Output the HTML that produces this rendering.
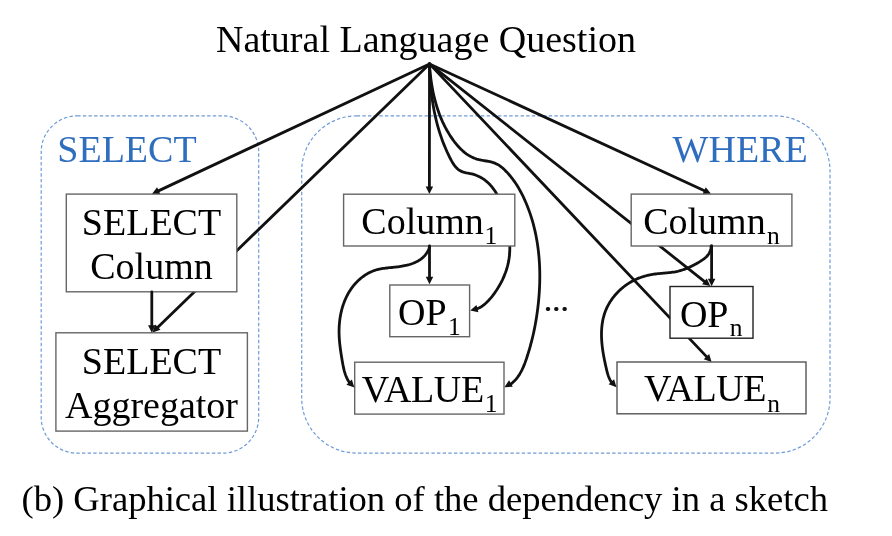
<!DOCTYPE html>
<html><head><meta charset="utf-8"><style>
html,body{margin:0;padding:0;background:#fff;width:892px;height:536px;overflow:hidden;}
svg{display:block;font-family:"Liberation Serif", serif;will-change:transform;}
</style></head><body>
<svg width="892" height="536" viewBox="0 0 892 536">
<rect x="41.2" y="115.9" width="217.5" height="337.3" rx="36" ry="36" stroke="#6f9bd6" stroke-width="1.2" stroke-dasharray="3.4 2.25" fill="none"/>
<rect x="301.7" y="115.9" width="528.3" height="337.2" rx="55" ry="55" stroke="#6f9bd6" stroke-width="1.2" stroke-dasharray="3.4 2.25" fill="none"/>
<text x="57.30" y="161.90" font-size="38" fill="#2f6ebf" text-anchor="start">SELECT</text>
<text x="672.60" y="161.90" font-size="38" fill="#2f6ebf" text-anchor="start">WHERE</text>
<text x="216.00" y="51.80" font-size="38" fill="#000" text-anchor="start">Natural Language Question</text>
<text x="21.50" y="511.00" font-size="36.6" fill="#000" text-anchor="start">(b) Graphical illustration of the dependency in a sketch</text>
<path d="M429.50 63.90 L156.81 328.22" stroke="#111" stroke-width="2.8" fill="none" stroke-linecap="round"/><path d="M152.50 332.40 L155.28 324.49 L160.50 329.87 Z" fill="#111"/>
<path d="M429.50 63.90 L429.50 65.76 L429.55 67.61 L429.62 69.47 L429.70 71.32 L429.78 73.18 L429.88 75.03 L429.98 76.88 L430.10 78.73 L430.23 80.58 L430.37 82.43 L430.52 84.28 L430.68 86.12 L430.86 87.97 L431.04 89.81 L431.24 91.65 L431.46 93.48 L431.68 95.32 L431.92 97.15 L432.17 98.98 L432.44 100.81 L432.72 102.63 L433.01 104.45 L433.32 106.27 L433.64 108.09 L433.98 109.90 L434.34 111.71 L434.71 113.52 L435.09 115.32 L435.49 117.12 L435.91 118.92 L436.34 120.71 L436.79 122.50 L437.26 124.29 L437.74 126.07 L438.25 127.84 L438.77 129.62 L439.30 131.38 L439.86 133.15 L440.44 134.91 L441.03 136.66 L441.64 138.41 L442.27 140.16 L442.92 141.90 L443.59 143.63 L444.29 145.36 L445.00 147.09 L445.73 148.81 L446.48 150.52 L447.25 152.23 L448.05 153.93 L448.86 155.63 L449.70 157.32 L450.56 159.00 L451.45 160.67 L452.38 162.31 L453.36 163.89 L454.40 165.40 L455.52 166.81 L456.73 168.11 L458.03 169.29 L459.45 170.31 L460.99 171.16 L462.65 171.85 L464.41 172.39 L466.24 172.83 L468.11 173.19 L469.99 173.54 L471.85 173.94 L473.67 174.42 L475.44 175.01 L477.16 175.68 L478.84 176.44 L480.46 177.28 L482.04 178.19 L483.56 179.18 L485.02 180.24 L486.43 181.37 L487.79 182.55 L489.08 183.80 L490.33 185.09 L491.51 186.44 L492.65 187.84 L493.74 189.29 L494.77 190.78 L495.76 192.31 L496.70 193.89 L497.60 195.50 L498.46 197.14 L499.27 198.82 L500.04 200.52 L500.77 202.26 L501.47 204.01 L502.13 205.79 L502.76 207.59 L503.35 209.41 L503.91 211.23 L504.44 213.08 L504.95 214.93 L505.42 216.78 L505.87 218.64 L506.30 220.51 L506.70 222.37 L507.08 224.23 L507.45 226.08 L507.79 227.92 L508.11 229.76 L508.41 231.60 L508.68 233.42 L508.93 235.24 L509.15 237.06 L509.34 238.87 L509.51 240.67 L509.63 242.47 L509.73 244.27 L509.79 246.07 L509.81 247.86 L509.79 249.65 L509.74 251.44 L509.64 253.22 L509.49 255.01 L509.31 256.80 L509.07 258.58 L508.79 260.36 L508.46 262.15 L508.07 263.94 L507.63 265.72 L507.15 267.51 L506.61 269.29 L506.02 271.07 L505.39 272.84 L504.71 274.60 L503.99 276.35 L503.23 278.09 L502.43 279.82 L501.59 281.52 L500.71 283.21 L499.79 284.88 L498.84 286.53 L497.86 288.15 L496.85 289.74 L495.80 291.31 L494.73 292.85 L493.63 294.35 L492.50 295.83 L491.35 297.26 L490.18 298.66 L488.98 300.02 L487.76 301.33 L486.51 302.59 L485.21 303.79 L483.86 304.92 L482.45 305.98 L480.96 306.95 L479.40 307.83 L477.76 308.61" stroke="#111" stroke-width="2.8" fill="none" stroke-linejoin="round" stroke-linecap="round"/><path d="M470.20 310.60 L476.50 305.06 L478.41 312.31 Z" fill="#111"/>
<path d="M429.50 63.90 L429.60 66.27 L429.78 68.63 L429.99 70.99 L430.23 73.36 L430.49 75.72 L430.78 78.08 L431.09 80.44 L431.43 82.80 L431.81 85.15 L432.21 87.50 L432.64 89.84 L433.11 92.18 L433.61 94.51 L434.14 96.83 L434.71 99.14 L435.31 101.44 L435.95 103.73 L436.62 106.01 L437.34 108.28 L438.09 110.53 L438.88 112.77 L439.71 114.99 L440.59 117.19 L441.51 119.38 L442.46 121.55 L443.47 123.70 L444.52 125.83 L445.61 127.94 L446.75 130.03 L447.94 132.09 L449.18 134.13 L450.46 136.14 L451.80 138.13 L453.19 140.10 L454.62 142.03 L456.12 143.91 L457.67 145.75 L459.28 147.52 L460.95 149.23 L462.68 150.85 L464.48 152.38 L466.35 153.80 L468.28 155.12 L470.29 156.31 L472.37 157.38 L474.52 158.30 L476.76 159.07 L479.07 159.68 L481.44 160.18 L483.84 160.60 L486.26 161.00 L488.66 161.43 L491.01 161.94 L493.30 162.57 L495.50 163.39 L497.59 164.42 L499.57 165.65 L501.45 167.05 L503.25 168.58 L504.97 170.21 L506.63 171.92 L508.24 173.67 L509.79 175.47 L511.29 177.31 L512.74 179.20 L514.14 181.12 L515.49 183.08 L516.79 185.07 L518.04 187.10 L519.25 189.16 L520.42 191.24 L521.54 193.35 L522.62 195.48 L523.67 197.63 L524.67 199.81 L525.64 201.99 L526.57 204.20 L527.46 206.41 L528.32 208.64 L529.14 210.87 L529.94 213.12 L530.69 215.37 L531.42 217.64 L532.11 219.91 L532.77 222.20 L533.40 224.49 L533.99 226.79 L534.56 229.10 L535.09 231.42 L535.59 233.74 L536.06 236.07 L536.51 238.41 L536.92 240.75 L537.30 243.10 L537.66 245.45 L537.98 247.81 L538.28 250.17 L538.55 252.53 L538.79 254.90 L539.01 257.28 L539.20 259.65 L539.36 262.03 L539.49 264.41 L539.60 266.80 L539.69 269.18 L539.75 271.57 L539.78 273.95 L539.79 276.34 L539.78 278.73 L539.74 281.11 L539.69 283.50 L539.60 285.88 L539.50 288.27 L539.37 290.65 L539.22 293.03 L539.05 295.40 L538.86 297.78 L538.65 300.15 L538.41 302.52 L538.16 304.88 L537.89 307.24 L537.60 309.59 L537.29 311.94 L536.96 314.29 L536.61 316.63 L536.23 318.96 L535.84 321.30 L535.43 323.63 L535.00 325.95 L534.54 328.28 L534.07 330.60 L533.57 332.92 L533.05 335.23 L532.51 337.55 L531.94 339.86 L531.35 342.17 L530.74 344.48 L530.11 346.79 L529.45 349.09 L528.77 351.40 L528.06 353.70 L527.33 356.01 L526.58 358.32 L525.79 360.61 L524.96 362.89 L524.08 365.14 L523.15 367.36 L522.15 369.52 L521.08 371.64 L519.93 373.68 L518.69 375.65 L517.35 377.54 L515.90 379.33 L514.34 381.01 L512.65 382.59 L510.83 384.04" stroke="#111" stroke-width="2.8" fill="none" stroke-linejoin="round" stroke-linecap="round"/><path d="M504.40 387.30 L509.05 380.32 L512.77 386.84 Z" fill="#111"/>
<path d="M429.50 63.90 L707.48 357.64" stroke="#111" stroke-width="2.8" fill="none" stroke-linecap="round"/><path d="M711.60 362.00 L703.72 359.13 L709.17 353.97 Z" fill="#111"/>
<path d="M429.50 63.90 L705.59 282.28" stroke="#111" stroke-width="2.8" fill="none" stroke-linecap="round"/><path d="M710.30 286.00 L702.09 284.29 L706.74 278.41 Z" fill="#111"/>
<path d="M429.50 63.90 L157.33 191.36" stroke="#111" stroke-width="2.8" fill="none" stroke-linecap="round"/><path d="M151.90 193.90 L157.10 187.32 L160.28 194.12 Z" fill="#111"/>
<path d="M429.50 63.90 L429.40 188.00" stroke="#111" stroke-width="2.8" fill="none" stroke-linecap="round"/><path d="M429.40 194.00 L425.66 186.50 L433.16 186.50 Z" fill="#111"/>
<path d="M429.50 63.90 L705.55 191.29" stroke="#111" stroke-width="2.8" fill="none" stroke-linecap="round"/><path d="M711.00 193.80 L702.62 194.06 L705.76 187.25 Z" fill="#111"/>
<rect x="66.30" y="194.10" width="170.50" height="97.70" fill="#fff" stroke="#666" stroke-width="1.4"/>
<text x="151.50" y="234.70" font-size="38" fill="#000" text-anchor="middle">SELECT</text>
<text x="151.50" y="279.00" font-size="38" fill="#000" text-anchor="middle">Column</text>
<rect x="55.90" y="332.80" width="191.50" height="98.30" fill="#fff" stroke="#666" stroke-width="1.4"/>
<text x="151.50" y="373.80" font-size="38" fill="#000" text-anchor="middle">SELECT</text>
<text x="151.50" y="418.40" font-size="38" fill="#000" text-anchor="middle">Aggregator</text>
<rect x="343.60" y="194.20" width="171.20" height="51.80" fill="#fff" stroke="#666" stroke-width="1.4"/><text x="361.30" y="233.60" font-size="38" fill="#000" text-anchor="start">Column</text><text x="484.60" y="243.60" font-size="25.5" fill="#000" text-anchor="start">1</text>
<rect x="389.80" y="285.00" width="79.80" height="51.70" fill="#fff" stroke="#666" stroke-width="1.4"/><text x="398.10" y="325.20" font-size="38" fill="#000" text-anchor="start">OP</text><text x="448.10" y="334.90" font-size="25.5" fill="#000" text-anchor="start">1</text>
<rect x="354.70" y="362.20" width="149.30" height="51.90" fill="#fff" stroke="#666" stroke-width="1.4"/><text x="361.70" y="401.80" font-size="38" fill="#000" text-anchor="start" letter-spacing="-0.35">VALUE</text><text x="484.70" y="411.50" font-size="25.5" fill="#000" text-anchor="start">1</text>
<rect x="631.20" y="194.10" width="160.70" height="51.90" fill="#fff" stroke="#666" stroke-width="1.4"/><text x="643.20" y="233.50" font-size="38" fill="#000" text-anchor="start">Column</text><text x="766.90" y="243.60" font-size="25.5" fill="#000" text-anchor="start">n</text>
<rect x="670.00" y="286.50" width="83.00" height="51.70" fill="#fff" stroke="#222" stroke-width="1.4"/><text x="679.90" y="327.20" font-size="38" fill="#000" text-anchor="start">OP</text><text x="729.80" y="335.70" font-size="25.5" fill="#000" text-anchor="start">n</text>
<rect x="617.00" y="362.00" width="189.00" height="51.80" fill="#fff" stroke="#555" stroke-width="1.4"/><text x="644.10" y="401.40" font-size="38" fill="#000" text-anchor="start" letter-spacing="-0.35">VALUE</text><text x="767.20" y="411.60" font-size="25.5" fill="#000" text-anchor="start">n</text>
<path d="M151.80 292.00 L151.80 326.70" stroke="#111" stroke-width="2.8" fill="none" stroke-linecap="round"/><path d="M151.80 332.70 L148.05 325.20 L155.55 325.20 Z" fill="#111"/>
<path d="M429.50 246.00 L429.50 278.30" stroke="#111" stroke-width="2.8" fill="none" stroke-linecap="round"/><path d="M429.50 284.30 L425.75 276.80 L433.25 276.80 Z" fill="#111"/>
<path d="M711.60 245.60 L711.60 280.20" stroke="#111" stroke-width="2.8" fill="none" stroke-linecap="round"/><path d="M711.60 286.20 L707.85 278.70 L715.35 278.70 Z" fill="#111"/>
<path d="M429.30 246.30 L429.39 247.59 L428.90 248.85 L428.37 250.06 L427.79 251.22 L427.15 252.32 L426.48 253.37 L425.75 254.37 L424.98 255.31 L424.18 256.21 L423.33 257.06 L422.44 257.87 L421.52 258.63 L420.57 259.35 L419.58 260.03 L418.56 260.66 L417.51 261.26 L416.43 261.82 L415.33 262.35 L414.20 262.84 L413.05 263.30 L411.88 263.73 L410.70 264.13 L409.49 264.50 L408.27 264.84 L407.03 265.16 L405.79 265.45 L404.53 265.72 L403.27 265.97 L401.99 266.20 L400.72 266.41 L399.44 266.60 L398.15 266.78 L396.87 266.94 L395.59 267.09 L394.31 267.23 L393.04 267.37 L391.78 267.49 L390.51 267.61 L389.26 267.73 L388.01 267.86 L386.77 267.99 L385.53 268.13 L384.30 268.28 L383.08 268.45 L381.86 268.64 L380.66 268.85 L379.46 269.09 L378.27 269.36 L377.09 269.65 L375.91 269.98 L374.75 270.35 L373.60 270.76 L372.45 271.21 L371.32 271.69 L370.20 272.21 L369.10 272.76 L368.00 273.35 L366.92 273.97 L365.86 274.62 L364.81 275.30 L363.78 276.01 L362.76 276.75 L361.77 277.51 L360.79 278.30 L359.83 279.12 L358.89 279.95 L357.97 280.82 L357.08 281.70 L356.21 282.60 L355.36 283.52 L354.53 284.46 L353.73 285.42 L352.95 286.39 L352.19 287.38 L351.46 288.39 L350.75 289.41 L350.06 290.45 L349.40 291.50 L348.76 292.57 L348.14 293.64 L347.54 294.74 L346.97 295.84 L346.41 296.96 L345.88 298.09 L345.37 299.23 L344.88 300.38 L344.41 301.54 L343.97 302.71 L343.54 303.89 L343.14 305.07 L342.75 306.27 L342.39 307.47 L342.04 308.68 L341.71 309.90 L341.41 311.12 L341.12 312.35 L340.86 313.58 L340.61 314.82 L340.38 316.06 L340.17 317.30 L339.98 318.55 L339.81 319.80 L339.66 321.06 L339.52 322.31 L339.40 323.57 L339.30 324.82 L339.22 326.08 L339.15 327.33 L339.11 328.59 L339.08 329.84 L339.06 331.09 L339.07 332.34 L339.09 333.59 L339.12 334.84 L339.17 336.08 L339.23 337.32 L339.31 338.57 L339.40 339.81 L339.50 341.05 L339.61 342.29 L339.73 343.53 L339.87 344.77 L340.01 346.00 L340.16 347.24 L340.32 348.48 L340.49 349.72 L340.67 350.96 L340.85 352.20 L341.04 353.44 L341.23 354.68 L341.43 355.93 L341.63 357.17 L341.83 358.42 L342.04 359.67 L342.25 360.92 L342.47 362.17 L342.69 363.42 L342.92 364.66 L343.16 365.91 L343.41 367.14 L343.68 368.37 L343.97 369.60 L344.28 370.81 L344.62 372.01 L344.98 373.20 L345.37 374.37 L345.79 375.53 L346.24 376.67 L346.73 377.79 L347.26 378.89 L347.84 379.97 L348.45 381.02 L349.11 382.05 L349.82 383.05" stroke="#111" stroke-width="2.8" fill="none" stroke-linejoin="round" stroke-linecap="round"/><path d="M354.40 387.40 L346.46 384.70 L351.80 379.43 Z" fill="#111"/>
<path d="M711.10 246.30 L711.02 247.72 L710.77 249.12 L710.41 250.44 L709.93 251.69 L709.36 252.86 L708.70 253.96 L707.95 255.00 L707.13 255.98 L706.24 256.91 L705.28 257.79 L704.28 258.63 L703.22 259.43 L702.13 260.19 L701.01 260.93 L699.87 261.65 L698.71 262.34 L697.54 263.03 L696.37 263.70 L695.18 264.35 L693.99 264.99 L692.79 265.61 L691.59 266.21 L690.37 266.79 L689.15 267.35 L687.92 267.88 L686.68 268.40 L685.43 268.89 L684.18 269.35 L682.92 269.79 L681.65 270.20 L680.37 270.58 L679.09 270.94 L677.80 271.26 L676.50 271.54 L675.19 271.80 L673.87 272.03 L672.55 272.23 L671.23 272.41 L669.90 272.57 L668.57 272.72 L667.23 272.85 L665.90 272.98 L664.56 273.09 L663.22 273.21 L661.89 273.32 L660.55 273.44 L659.22 273.56 L657.89 273.70 L656.56 273.84 L655.24 274.01 L653.93 274.19 L652.62 274.39 L651.32 274.62 L650.02 274.87 L648.73 275.14 L647.45 275.44 L646.18 275.75 L644.91 276.10 L643.66 276.46 L642.41 276.86 L641.17 277.27 L639.94 277.71 L638.72 278.18 L637.51 278.67 L636.30 279.19 L635.11 279.74 L633.93 280.31 L632.76 280.91 L631.60 281.54 L630.45 282.20 L629.31 282.88 L628.19 283.60 L627.08 284.34 L625.98 285.11 L624.89 285.91 L623.82 286.74 L622.76 287.59 L621.72 288.47 L620.69 289.37 L619.69 290.30 L618.70 291.25 L617.74 292.22 L616.79 293.22 L615.87 294.23 L614.97 295.26 L614.10 296.32 L613.25 297.39 L612.43 298.47 L611.63 299.58 L610.86 300.69 L610.13 301.83 L609.42 302.97 L608.74 304.13 L608.10 305.30 L607.48 306.48 L606.90 307.67 L606.36 308.88 L605.85 310.09 L605.37 311.31 L604.92 312.54 L604.50 313.77 L604.11 315.02 L603.75 316.27 L603.42 317.53 L603.12 318.80 L602.85 320.08 L602.60 321.36 L602.38 322.65 L602.18 323.94 L602.02 325.24 L601.87 326.55 L601.75 327.86 L601.66 329.18 L601.58 330.50 L601.53 331.82 L601.50 333.15 L601.49 334.48 L601.51 335.82 L601.54 337.16 L601.59 338.50 L601.66 339.84 L601.75 341.18 L601.85 342.53 L601.97 343.87 L602.11 345.22 L602.26 346.56 L602.42 347.91 L602.60 349.25 L602.79 350.60 L603.00 351.94 L603.21 353.28 L603.44 354.62 L603.68 355.95 L603.92 357.29 L604.18 358.62 L604.44 359.94 L604.71 361.26 L604.99 362.58 L605.27 363.89 L605.56 365.20 L605.85 366.50 L606.15 367.79 L606.45 369.08 L606.76 370.36 L607.07 371.63 L607.41 372.89 L607.76 374.14 L608.15 375.37 L608.58 376.58 L609.06 377.78 L609.59 378.95 L610.17 380.09 L610.83 381.21 L611.56 382.30" stroke="#111" stroke-width="2.8" fill="none" stroke-linejoin="round" stroke-linecap="round"/><path d="M616.50 387.20 L608.62 384.33 L614.07 379.18 Z" fill="#111"/>
<rect x="545.90" y="306.9" width="4.2" height="4" rx="1.6" fill="#111"/>
<rect x="554.20" y="306.9" width="4.2" height="4" rx="1.6" fill="#111"/>
<rect x="562.55" y="306.9" width="4.2" height="4" rx="1.6" fill="#111"/>
</svg>
</body></html>
